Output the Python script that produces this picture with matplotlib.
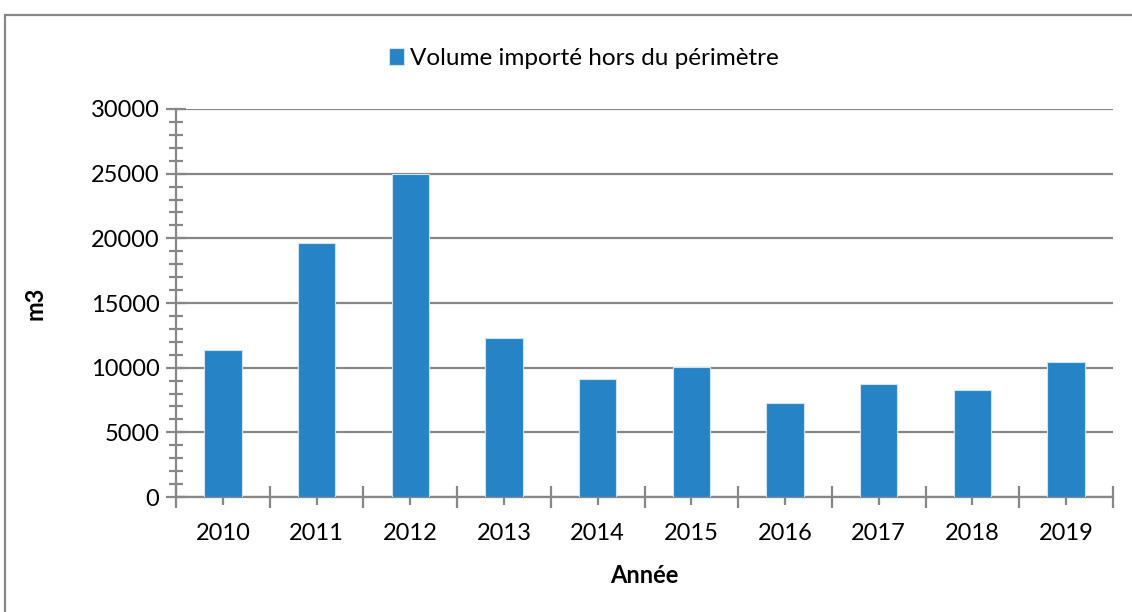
import matplotlib
matplotlib.use('Agg')
from matplotlib import pyplot as plt
from matplotlib.patches import Rectangle
from matplotlib.ticker import MultipleLocator
import numpy as np

annees = ['2010', '2011', '2012', '2013', '2014',
          '2015', '2016', '2017', '2018', '2019']
volumes = [11380, 19630, 25000, 12280, 9090,
           10090, 7230, 8750, 8260, 10430]

plt.rcParams['font.family'] = ['Lato', 'DejaVu Sans']

grey = '#878787'
blue = '#2683C6'

fig = plt.figure(figsize=(11.32, 6.12), dpi=100)
ax = fig.add_axes([0.1555, 0.1879, 0.8277, 0.634])

x = np.arange(len(annees))
ax.bar(x, volumes, width=0.4, color=blue, edgecolor='#cfe3f3', linewidth=0.8,
       label='Volume importé hors du périmètre', zorder=3)

ax.set_xlim(-0.5, len(annees) - 0.5)
ax.set_ylim(0, 30000)
ax.yaxis.set_major_locator(MultipleLocator(5000))
ax.yaxis.set_minor_locator(MultipleLocator(1000))
ax.set_xticks(x)
ax.set_xticklabels(annees)
ax.set_xticks(np.arange(-0.5, len(annees)), minor=True)

ax.grid(axis='y', which='major', color=grey, linewidth=1.6, zorder=1)
for s in ['top', 'right']:
    ax.spines[s].set_visible(False)
for s in ['left', 'bottom']:
    ax.spines[s].set_color(grey)
    ax.spines[s].set_linewidth(1.6)

ax.tick_params(axis='y', which='major', direction='inout', length=14, width=1.6,
               color=grey, labelsize=17, pad=5)
ax.tick_params(axis='y', which='minor', direction='inout', length=10, width=1.6,
               color=grey)
ax.tick_params(axis='x', which='major', direction='inout', length=12, width=1.6,
               color=grey, labelsize=17, pad=13)
ax.tick_params(axis='x', which='minor', direction='inout', length=16, width=1.6,
               color=grey)

ax.set_ylabel('m3', fontsize=17, fontweight='bold', labelpad=32)
ax.set_xlabel('Année', fontsize=17, fontweight='bold', labelpad=14)

ax.legend(loc='center', bbox_to_anchor=(0.516, 0.905), bbox_transform=fig.transFigure,
          frameon=False, fontsize=17.5, handlelength=0.6, handleheight=0.7,
          handletextpad=0.25)

fig.patches.append(Rectangle((0.004, -0.1), 1.1, 1.075, transform=fig.transFigure,
                             fill=False, edgecolor=grey, linewidth=1.6))

fig.savefig('out.png', dpi=100)
